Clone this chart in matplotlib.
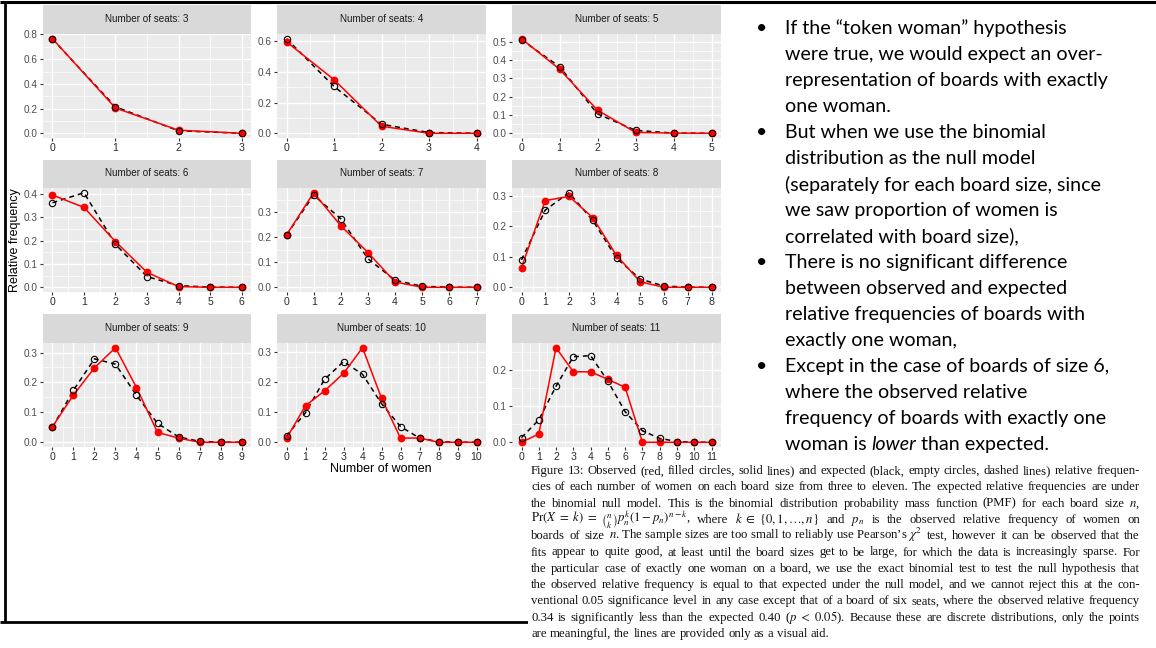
import re
import matplotlib
matplotlib.use("Agg")
import matplotlib.pyplot as plt
from matplotlib.patches import Rectangle

# ---------------- data ----------------
seats = [3, 4, 5, 6, 7, 8, 9, 10, 11]

obs_3 = [0.765, 0.205, 0.026, 0.001]
exp_3 = [0.762, 0.215, 0.021, 0.001]
obs_4 = [0.597, 0.350, 0.046, 0.0, 0.0]
exp_4 = [0.617, 0.306, 0.059, 0.005, 0.0002]
obs_5 = [0.516, 0.350, 0.126, 0.005, 0.001, 0.0]
exp_5 = [0.510, 0.364, 0.106, 0.016, 0.001, 0.0]
obs_6 = [0.396, 0.343, 0.196, 0.064, 0.003, 0.0, 0.0]
exp_6 = [0.363, 0.406, 0.184, 0.046, 0.007, 0.001, 0.0]
obs_7 = [0.209, 0.378, 0.246, 0.139, 0.021, 0.0, 0.0, 0.0]
exp_7 = [0.209, 0.368, 0.274, 0.114, 0.028, 0.004, 0.0003, 0.0]
obs_8 = [0.065, 0.285, 0.299, 0.229, 0.105, 0.018, 0.0, 0.0, 0.0]
exp_8 = [0.090, 0.254, 0.311, 0.220, 0.096, 0.027, 0.004, 0.0004, 0.0]
obs_9 = [0.052, 0.158, 0.249, 0.316, 0.183, 0.033, 0.014, 0.0, 0.0, 0.0]
exp_9 = [0.050, 0.174, 0.279, 0.261, 0.157, 0.063, 0.018, 0.003, 0.0003, 0.0]
obs_10 = [0.013, 0.121, 0.170, 0.228, 0.313, 0.146, 0.014, 0.014, 0.0, 0.0, 0.0]
exp_10 = [0.021, 0.098, 0.208, 0.267, 0.225, 0.128, 0.052, 0.014, 0.002, 0.0002, 0.0]
obs_11 = [0.0, 0.023, 0.263, 0.196, 0.196, 0.175, 0.153, 0.0, 0.0, 0.0, 0.0, 0.0]
exp_11 = [0.013, 0.062, 0.156, 0.238, 0.241, 0.170, 0.085, 0.032, 0.011, 0.002, 0.0003, 0.0]

yticks_3 = [0.0, 0.2, 0.4, 0.6, 0.8]
yticks_4 = [0.0, 0.2, 0.4, 0.6]
yticks_5 = [0.0, 0.1, 0.2, 0.3, 0.4, 0.5]
yticks_6 = [0.0, 0.1, 0.2, 0.3, 0.4]
yticks_7 = [0.0, 0.1, 0.2, 0.3]
yticks_8 = [0.0, 0.1, 0.2, 0.3]
yticks_9 = [0.0, 0.1, 0.2, 0.3]
yticks_10 = [0.0, 0.1, 0.2, 0.3]
yticks_11 = [0.0, 0.1, 0.2]

observed = [obs_3, obs_4, obs_5, obs_6, obs_7, obs_8, obs_9, obs_10, obs_11]
expected = [exp_3, exp_4, exp_5, exp_6, exp_7, exp_8, exp_9, exp_10, exp_11]
yticks_all = [yticks_3, yticks_4, yticks_5, yticks_6, yticks_7, yticks_8,
              yticks_9, yticks_10, yticks_11]

strip_title = "Number of seats: {}"
x_title = "Number of women"
y_title = "Relative frequency"

bullet_lines = [
    (True, "If the \u201ctoken woman\u201d hypothesis"),
    (False, "were true, we would expect an over-"),
    (False, "representation of boards with exactly"),
    (False, "one woman."),
    (True, "But when we use the binomial"),
    (False, "distribution as the null model"),
    (False, "(separately for each board size, since"),
    (False, "we saw proportion of women is"),
    (False, "correlated with board size),"),
    (True, "There is no significant difference"),
    (False, "between observed and expected"),
    (False, "relative frequencies of boards with"),
    (False, "exactly one woman,"),
    (True, "Except in the case of boards of size 6,"),
    (False, "where the observed relative"),
    (False, "frequency of boards with exactly one"),
]
last_bullet_parts = ["woman is ", "lower", " than expected."]

caption_lines = [
    "Figure 13: Observed (red, filled circles, solid lines) and expected (black, empty circles, dashed lines) relative frequen-",
    "cies of each number of women on each board size from three to eleven. The expected relative frequencies are under",
    "the binomial null model. This is the binomial distribution probability mass function (PMF) for each board size $n$,",
    r"$\mathrm{Pr}(X\ =\ k)\ =\ \binom{n}{k}p_n^k(1-p_n)^{n-k}$, where $k\ \in\ \{0,1,\ldots,n\}$ and $p_n$ is the observed relative frequency of women on",
    "boards of size $n$. The sample sizes are too small to reliably use Pearson\u2019s $\\chi^2$ test, however it can be observed that the",
    "fits appear to quite good, at least until the board sizes get to be large, for which the data is increasingly sparse. For",
    "the particular case of exactly one woman on a board, we use the exact binomial test to test the null hypothesis that",
    "the observed relative frequency is equal to that expected under the null model, and we cannot reject this at the con-",
    "ventional 0.05 significance level in any case except that of a board of six seats, where the observed relative frequency",
    "0.34 is significantly less than the expected 0.40 ($p\\ <\\ 0.05$). Because these are discrete distributions, only the points",
    "are meaningful, the lines are provided only as a visual aid.",
]

# ---------------- layout ----------------
W, H = 1156, 648
fig = plt.figure(figsize=(W / 100, H / 100), dpi=100)
fig.patch.set_facecolor("white")

bg = fig.add_axes([0, 0, 1, 1])
bg.set_xlim(0, W)
bg.set_ylim(H, 0)
bg.axis("off")


def rect(x0, y0, x1, y1):
    return [x0 / W, 1 - y1 / H, (x1 - x0) / W, (y1 - y0) / H]


# slide border
bg.plot([0, W], [2, 2], color="black", lw=2.2, solid_capstyle="butt", zorder=1)
bg.plot([4.5, 4.5], [2, 622], color="black", lw=2.0, solid_capstyle="butt", zorder=1)
bg.plot([0, 530], [622, 622], color="black", lw=2.0, solid_capstyle="butt", zorder=1)
bg.add_patch(Rectangle((528, 458), W - 528, H - 458, fc="white", ec="none", zorder=2))

cols = [(43, 251), (277, 486), (512, 721)]
rows = [((5, 34), 138), ((160, 188), 292), ((314, 343), 447)]

for i, n in enumerate(seats):
    r, c = divmod(i, 3)
    (sy0, sy1), py1 = rows[r]
    px0, px1 = cols[c]
    # strip
    sax = fig.add_axes(rect(px0, sy0, px1, sy1))
    sax.set_facecolor("#D9D9D9")
    sax.set_xticks([]); sax.set_yticks([])
    for s in sax.spines.values():
        s.set_visible(False)
    sax.text(0.5, 0.52, strip_title.format(n), ha="center", va="center",
             fontsize=7.1, color="#1A1A1A", family="Liberation Sans",
             transform=sax.transAxes)
    # panel
    ax = fig.add_axes(rect(px0, sy1, px1, py1))
    ax.set_facecolor("#EBEBEB")
    for s in ax.spines.values():
        s.set_visible(False)
    k = list(range(n + 1))
    ax.plot(k, expected[i], color="black", lw=1.1, dashes=(3.2, 2.6), zorder=2)
    ax.plot(k, observed[i], color="#FF0000", lw=1.1, zorder=3)
    ax.plot(k, observed[i], ls="none", marker="o", ms=4.6, mfc="#FF0000",
            mec="#FF0000", zorder=4)
    ax.plot(k, expected[i], ls="none", marker="o", ms=4.6, mfc="none",
            mec="black", mew=0.8, zorder=5)
    ax.margins(x=0.05, y=0.05)
    yt = yticks_all[i]
    ax.set_xticks(k)
    ax.set_xticklabels([str(v) for v in k])
    ax.set_yticks(yt)
    ax.set_yticklabels([f"{v:.1f}" for v in yt])
    ax.set_xticks([v + 0.5 for v in k[:-1]], minor=True)
    ymin, ymax = ax.get_ylim()
    step = yt[1] - yt[0]
    minors = [v + step / 2 for v in yt if ymin < v + step / 2 < ymax]
    ax.set_yticks(minors, minor=True)
    ax.grid(which="major", color="white", lw=1.0)
    ax.grid(which="minor", color="white", lw=0.5)
    ax.set_axisbelow(True)
    ax.tick_params(which="major", length=2.2, width=0.8, color="#333333", pad=1.5)
    ax.tick_params(which="minor", length=0)
    ax.tick_params(axis="y", labelsize=7.2, labelcolor="#4D4D4D")
    ax.tick_params(axis="x", labelsize=7.6, labelcolor="#2A2A2A")
    for lab in ax.get_xticklabels() + ax.get_yticklabels():
        lab.set_family("Liberation Sans")

# axis titles
bg.text(381, 469, x_title, ha="center", va="center", fontsize=9.0,
        family="Liberation Sans", color="black", zorder=3)
bg.text(15.5, 240, y_title, ha="center", va="center", rotation=90, fontsize=9.0,
        family="Liberation Sans", color="black", zorder=3)

# bullet text
bfont = dict(family="Lato", fontsize=14.1, color="black")
for j, (is_bullet, line) in enumerate(bullet_lines):
    y = 27 + 26 * j
    if is_bullet:
        bg.text(762, y, "\u2022", ha="center", va="center_baseline", **bfont)
    bg.text(785, y, line, ha="left", va="center_baseline", **bfont)
y_last = 27 + 26 * len(bullet_lines)
t1 = bg.text(785, y_last, last_bullet_parts[0], ha="left", va="center_baseline", **bfont)
t2 = bg.annotate(last_bullet_parts[1], xy=(1, 0), xycoords=t1, ha="left", va="bottom",
                 style="italic", **bfont)
t3 = bg.annotate(last_bullet_parts[2], xy=(1, 0), xycoords=t2, ha="left", va="bottom",
                 **bfont)

# caption (justified)
renderer = fig.canvas.get_renderer()
cfont = dict(family="Liberation Serif", fontsize=9.2, color="#111111",
             math_fontfamily="stix", zorder=4)


def text_width(s):
    t = bg.text(0, 0, s, **cfont)
    w = t.get_window_extent(renderer).width
    t.remove()
    return w


space_w = text_width("x x") - text_width("xx")
cx0, cx1 = 531, 1140
for j, line in enumerate(caption_lines):
    y = 474 + 16.3 * j
    tokens = re.findall(r"\S*\$[^$]*\$\S*|\S+", line)
    widths = [text_width(tk) for tk in tokens]
    last = j == len(caption_lines) - 1
    if last or len(tokens) < 2:
        gap = space_w
    else:
        gap = (cx1 - cx0 - sum(widths)) / (len(tokens) - 1)
        gap = max(gap, 0.6 * space_w)
    x = cx0
    for tk, w in zip(tokens, widths):
        bg.text(x, y, tk, ha="left", va="baseline", **cfont)
        x += w + gap

fig.savefig("out.png", dpi=100)
